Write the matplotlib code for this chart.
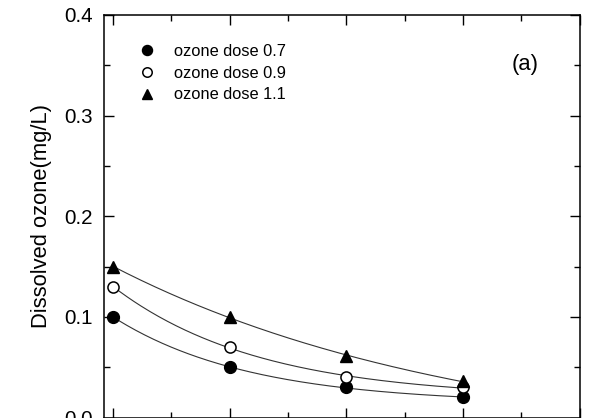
import numpy as np
import matplotlib
matplotlib.use("Agg")
import matplotlib.pyplot as plt
from matplotlib.ticker import MultipleLocator

plt.rcParams['font.family'] = ['Liberation Sans', 'DejaVu Sans']

time_min = [0, 10, 20, 30]
dose_07 = [0.100, 0.050, 0.030, 0.020]
dose_09 = [0.130, 0.070, 0.040, 0.030]
dose_11 = [0.150, 0.100, 0.061, 0.036]
labels = ["ozone dose 0.7", "ozone dose 0.9", "ozone dose 1.1"]


def exp_fit(x, y):
    x = np.asarray(x, float)
    y = np.asarray(y, float)
    best = None
    for b in np.linspace(0.005, 0.3, 600):
        A = np.column_stack([np.exp(-b * x), np.ones_like(x)])
        coef, *_ = np.linalg.lstsq(A, y, rcond=None)
        err = np.sum((A @ coef - y) ** 2)
        if best is None or err < best[0]:
            best = (err, b, coef)
    _, b, (a, c) = best
    xs = np.linspace(x.min(), x.max(), 200)
    return xs, a * np.exp(-b * xs) + c


fig = plt.figure(figsize=(5.91, 4.18), dpi=100)
ax = fig.add_axes([104 / 591, 0.5 / 418, (579.5 - 104) / 591, (417.5 - 15) / 418])

series = [
    (dose_07, dict(marker='o', markerfacecolor='black', markeredgecolor='black', markersize=8.5)),
    (dose_09, dict(marker='o', markerfacecolor='white', markeredgecolor='black', markersize=8, markeredgewidth=1.1)),
    (dose_11, dict(marker='^', markerfacecolor='black', markeredgecolor='black', markersize=9)),
]
for (ys, style), lab in zip(series, labels):
    xs, yf = exp_fit(time_min, ys)
    ax.plot(xs, yf, color='#333333', lw=0.8, zorder=1)
    ax.plot(time_min, ys, linestyle='none', label=lab, zorder=3, **style)

ax.set_xlim(-0.77, 40)
ax.set_ylim(0, 0.4)
ax.xaxis.set_major_locator(MultipleLocator(10))
ax.xaxis.set_minor_locator(MultipleLocator(5))
ax.yaxis.set_major_locator(MultipleLocator(0.1))
ax.yaxis.set_minor_locator(MultipleLocator(0.05))
ax.yaxis.set_major_formatter(matplotlib.ticker.FormatStrFormatter('%.1f'))
ax.tick_params(which='both', direction='in', top=True, right=True, width=1)
ax.tick_params(which='major', length=7.5, labelsize=14.8, pad=8)
ax.tick_params(which='minor', length=4)
ax.tick_params(axis='x', labelbottom=False)
for s in ax.spines.values():
    s.set_linewidth(1.1)

ax.set_ylabel("Dissolved ozone(mg/L)", fontsize=15.8, labelpad=9)

leg = ax.legend(loc='upper left', bbox_to_anchor=(0.06, 0.945), frameon=False,
                fontsize=11.8, handlelength=1.0, handletextpad=1.1,
                labelspacing=0.42, borderaxespad=0, markerscale=0.85)

ax.text(0.885, 0.878, "(a)", fontsize=15.8, ha='center', va='center', transform=ax.transAxes)

fig.savefig("out.png", dpi=100)
